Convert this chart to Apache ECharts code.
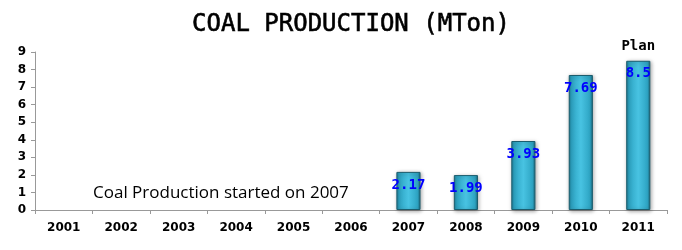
<!DOCTYPE html>
<html><head><meta charset="utf-8">
<script src="https://cdn.jsdelivr.net/npm/echarts@6/dist/echarts.min.js"></script>
<style>html,body{margin:0;padding:0;background:#fff}#c{width:682px;height:250px}</style>
</head><body><div id="c"></div>
<script>
var categories = ['2001','2002','2003','2004','2005','2006','2007','2008','2009','2010','2011'];
var production = [null,null,null,null,null,null,2.17,1.99,3.93,7.69,8.5];
var yTicks = [0,1,2,3,4,5,6,7,8,9];
var titleText = 'COAL PRODUCTION (MTon)';
var noteText = 'Coal Production started on 2007';
var planLabel = 'Plan';

var chart = echarts.init(document.getElementById('c'));
var barColor = new echarts.graphic.LinearGradient(0,0,1,0,[
  {offset:0,color:'#1d7d96'},{offset:0.12,color:'#2ea5c4'},{offset:0.5,color:'#48c3e2'},{offset:0.88,color:'#2ea5c4'},{offset:1,color:'#1a6a80'}
]);
chart.setOption({
  animation:false,
  title:{text:titleText,left:346,textAlign:'center',top:8,
    textStyle:{fontFamily:'DejaVu Sans Mono',fontWeight:'normal',fontSize:24,color:'#000',
      textBorderColor:'#000',textBorderWidth:0.6}},
  grid:{left:35,right:15,top:52,bottom:40},
  xAxis:{type:'category',data:categories,boundaryGap:true,
    axisLine:{lineStyle:{color:'#999'}},
    axisTick:{show:true,length:4,lineStyle:{color:'#999'}},
    axisLabel:{color:'#000',fontFamily:'DejaVu Sans',fontWeight:'bold',fontSize:12,margin:12}},
  yAxis:{type:'value',min:0,max:9,interval:1,
    axisLine:{show:true,lineStyle:{color:'#999'}},
    axisTick:{show:true,length:4,lineStyle:{color:'#999'}},
    splitLine:{show:false},
    axisLabel:{color:'#000',fontFamily:'DejaVu Sans',fontWeight:'bold',fontSize:12,margin:9,
      formatter:function(v){return yTicks.indexOf(v)>=0?String(v):'';}}},
  series:[{type:'bar',data:production,barWidth:'42%',
    itemStyle:{color:barColor,borderColor:'#1b5d6e',borderWidth:1,
      shadowColor:'rgba(0,0,0,0.35)',shadowBlur:4,shadowOffsetX:1,shadowOffsetY:1},
    label:{show:true,position:'insideTop',distance:6,color:'#0000ff',
      fontFamily:'DejaVu Sans Mono',fontWeight:'bold',fontSize:14,
      formatter:function(p){return p.value==null?'':String(p.value);}},
    markPoint:{symbol:'rect',symbolSize:1,itemStyle:{color:'rgba(0,0,0,0)'},
      label:{show:true,position:'top',distance:7,color:'#000',fontFamily:'DejaVu Sans Mono',fontWeight:'bold',fontSize:14,formatter:planLabel},
      data:[{coord:['2011',8.5]}]}
  }],
  graphic:[{type:'text',left:93,top:185,style:{text:noteText,fill:'#000',
    font:'17px "Open Sans", "Noto Sans", sans-serif'}}]
});
</script></body></html>
